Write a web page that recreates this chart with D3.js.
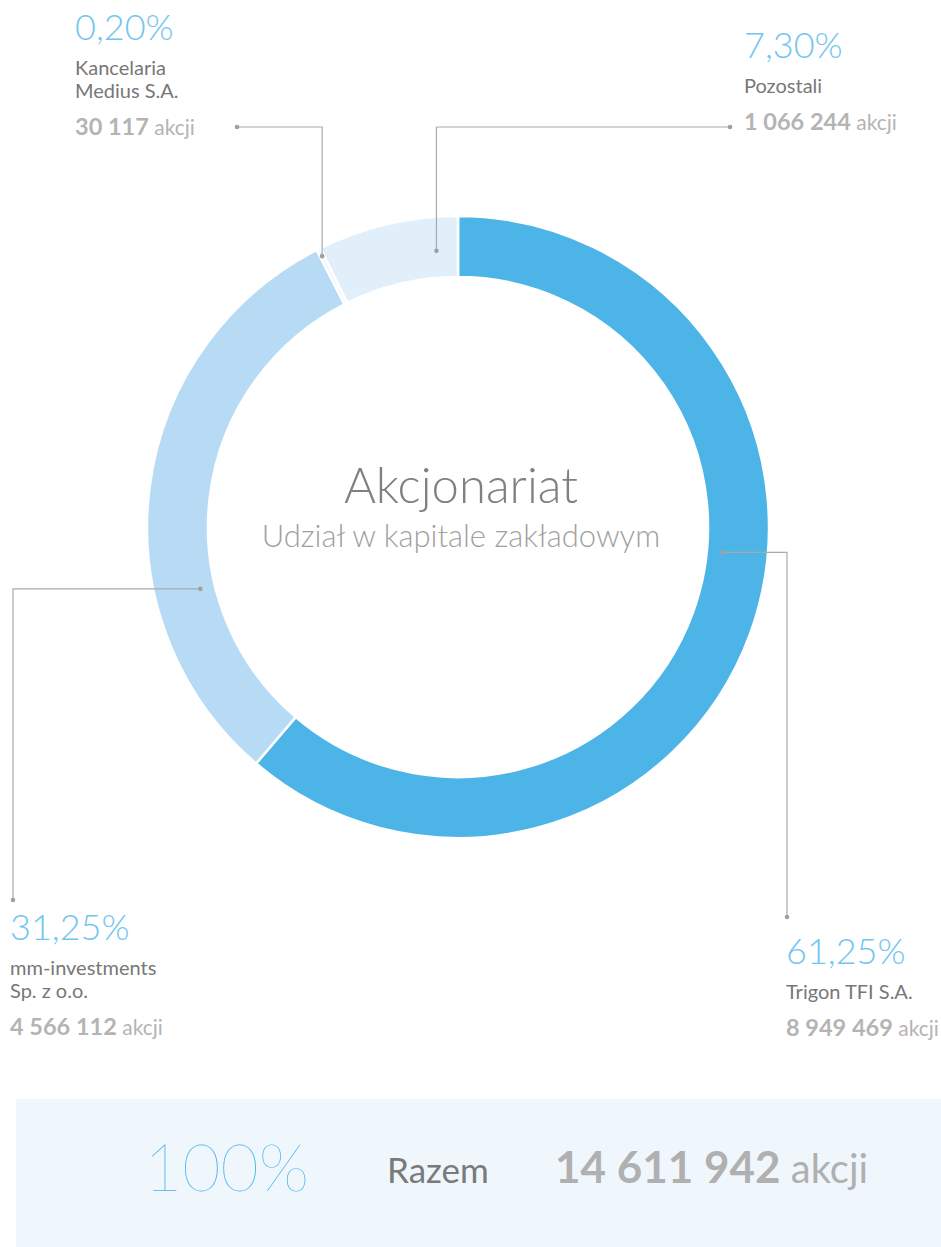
<!DOCTYPE html>
<html>
<head>
<meta charset="utf-8">
<script src="https://cdn.jsdelivr.net/npm/d3@7"></script>
<style>
  html, body { margin: 0; padding: 0; background: #fff; }
  svg text { font-family: Lato, "Open Sans", sans-serif; }
</style>
</head>
<body>
<div id="chart"></div>
<script>
// shareholders, clockwise from 12 o'clock
const holders = ["Trigon TFI S.A.", "mm-investments Sp. z o.o.", "Kancelaria Medius S.A.", "Pozostali"];
const nameLines = [["Trigon TFI S.A."], ["mm-investments", "Sp. z o.o."], ["Kancelaria", "Medius S.A."], ["Pozostali"]];
const shares = [8949469, 4566112, 30117, 1066244];
const percents = ["61,25%", "31,25%", "0,20%", "7,30%"];
const colors = ["#4db4e7", "#b7dbf5", "#eaf4fd", "#e1effa"];
const totalPercent = "100%";
const totalLabel = "Razem";
const title = "Akcjonariat";
const subtitle = "Udział w kapitale zakładowym";

const width = 941, height = 1247;
const cx = 458, cy = 527;
const outerR = 311, innerR = 250;

const pl = d3.formatLocale({decimal: ",", thousands: " ", grouping: [3], currency: ["", " zł"]});
const fmt = pl.format(",d");

// label layout: where the text block sits and how its leader line bends
const layout = [
  {x: 786, y: 964, frac: 0.433, r: 266, kind: "h", bend: 787, end: 917},
  {x: 10,  y: 940, frac: 0.32,  r: 265, kind: "h", bend: 13,  end: 900},
  {x: 75,  y: 40,  frac: 0.5,   r: 303, kind: "v", bend: 127, end: 237},
  {x: 744, y: 58,  frac: 0.83,  r: 277, kind: "v", bend: 127, end: 730}
];

const svg = d3.select("#chart").append("svg")
    .attr("width", width)
    .attr("height", height);

const pie = d3.pie().sort(null).value(d => d);
const arcs = pie(shares);
const arc = d3.arc().innerRadius(innerR).outerRadius(outerR);

const ring = svg.append("g").attr("transform", `translate(${cx},${cy})`);
ring.selectAll("path")
  .data(arcs)
  .join("path")
    .attr("d", arc)
    .attr("fill", (d, i) => colors[i])
    .attr("stroke", "#fff")
    .attr("stroke-width", 2.5);

// center titles
svg.append("text")
    .attr("x", 461).attr("y", 503)
    .attr("text-anchor", "middle")
    .attr("font-size", 49).attr("font-weight", 300)
    .attr("fill", "#808080")
    .text(title);
svg.append("text")
    .attr("x", 461).attr("y", 547)
    .attr("text-anchor", "middle")
    .attr("font-size", 31).attr("font-weight", 300)
    .attr("fill", "#a0a0a0")
    .text(subtitle);

// leader lines
const lineColor = "#a9a9a9";
const leaders = svg.append("g");
arcs.forEach((a, i) => {
  const L = layout[i];
  const ang = a.startAngle + (a.endAngle - a.startAngle) * L.frac;
  const px = cx + L.r * Math.sin(ang);
  const py = cy - L.r * Math.cos(ang);
  let pts;
  if (L.kind === "h") {
    pts = [[px, py], [L.bend, py], [L.bend, L.end]];
  } else {
    pts = [[px, py], [px, L.bend], [L.end, L.bend]];
  }
  leaders.append("path")
      .attr("d", d3.line()(pts))
      .attr("fill", "none")
      .attr("stroke", lineColor)
      .attr("stroke-width", 1.2);
  [pts[0], pts[2]].forEach(p => {
    leaders.append("circle")
        .attr("cx", p[0]).attr("cy", p[1]).attr("r", 2.3)
        .attr("fill", "#a0a0a0");
  });
});

// label blocks
arcs.forEach((a, i) => {
  const L = layout[i];
  const g = svg.append("g");
  g.append("text")
      .attr("x", L.x).attr("y", L.y)
      .attr("font-size", 36).attr("font-weight", 300)
      .attr("fill", "#72c5ef")
      .text(percents[i]);
  let yy = L.y + 35;
  nameLines[i].forEach((ln, k) => {
    g.append("text")
        .attr("x", L.x).attr("y", yy + k * 23)
        .attr("font-size", 20)
        .attr("fill", "#777")
        .text(ln);
  });
  yy += (nameLines[i].length - 1) * 23 + 37;
  const t = g.append("text")
      .attr("x", L.x).attr("y", yy)
      .attr("fill", "#b4b4b4");
  t.append("tspan").attr("font-size", 23.5).attr("font-weight", 700).text(fmt(a.data));
  t.append("tspan").attr("font-size", 21).text(" akcji");
});

// total panel
const total = d3.sum(shares);
svg.append("rect")
    .attr("x", 16).attr("y", 1099)
    .attr("width", width - 16).attr("height", height - 1099)
    .attr("fill", "#eff7fd");
svg.append("text")
    .attr("x", 144).attr("y", 1191)
    .attr("font-size", 66).attr("font-weight", 200)
    .attr("fill", "#45b3ec")
    .text(totalPercent);
svg.append("text")
    .attr("x", 387).attr("y", 1183)
    .attr("font-size", 35)
    .attr("fill", "#7a7a7a")
    .text(totalLabel);
const tt = svg.append("text")
    .attr("x", 555).attr("y", 1183)
    .attr("fill", "#b0b0b0");
tt.append("tspan").attr("font-size", 44).attr("font-weight", 700).text(fmt(total));
tt.append("tspan").attr("font-size", 40).text(" akcji");
</script>
</body>
</html>
